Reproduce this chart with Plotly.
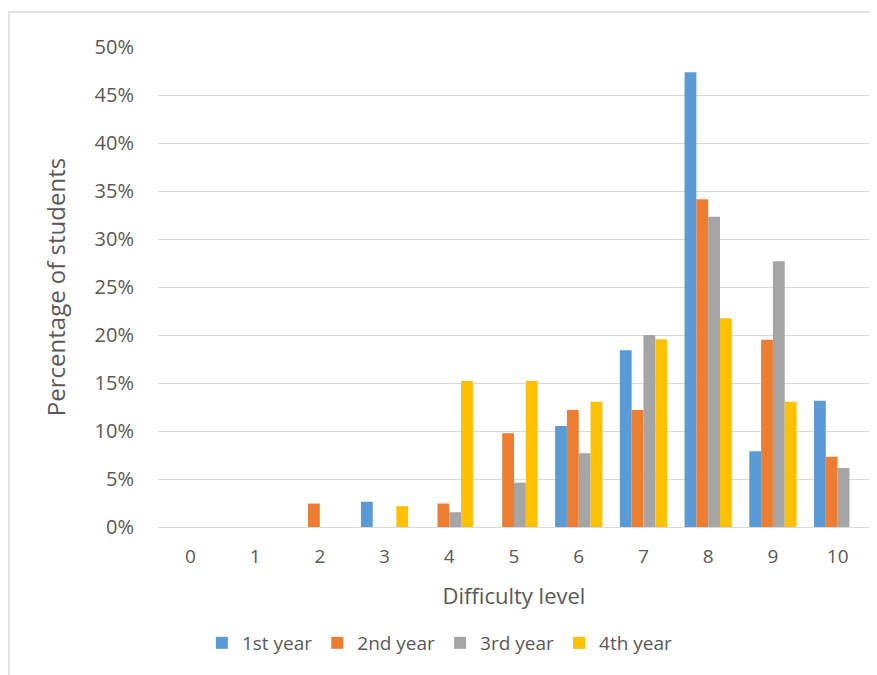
import plotly.graph_objects as go

categories = ["0", "1", "2", "3", "4", "5", "6", "7", "8", "9", "10"]
year1 = [0, 0, 0, 2.63, 0, 0, 10.53, 18.42, 47.37, 7.89, 13.16]
year2 = [0, 0, 2.44, 0, 2.44, 9.76, 12.20, 12.20, 34.15, 19.51, 7.32]
year3 = [0, 0, 0, 0, 1.54, 4.62, 7.69, 20.00, 32.31, 27.69, 6.15]
year4 = [0, 0, 0, 2.17, 15.22, 15.22, 13.04, 19.57, 21.74, 13.04, 0]
series_names = ["1st year", "2nd year", "3rd year", "4th year"]
colors = ["#5B9BD5", "#ED7D31", "#A5A5A5", "#FFC000"]
y_ticks = [0, 5, 10, 15, 20, 25, 30, 35, 40, 45, 50]
y_tick_labels = [f"{v}%" for v in y_ticks]

FONT = "Open Sans"
TXT = "#595959"

fig = go.Figure()
for name, vals, col in zip(series_names, [year1, year2, year3, year4], colors):
    fig.add_trace(go.Bar(x=categories, y=vals, name=name, marker=dict(color=col, line=dict(width=0))))

fig.update_layout(
    width=869, height=667,
    margin=dict(l=150, r=7, t=39, b=148),
    paper_bgcolor="white", plot_bgcolor="white",
    barmode="group", bargap=0.27, bargroupgap=0,
    font=dict(family=FONT, color=TXT, size=18),
    showlegend=True,
    legend=dict(orientation="h", xref="container", yref="container", x=0.497, xanchor="center",
                y=0.048, yanchor="middle", font=dict(size=19, color=TXT, family=FONT),
                itemwidth=30, traceorder="normal"),
    xaxis=dict(type="category", range=[-0.5, 10.5], showgrid=False, showline=False, zeroline=False,
               ticks="", tickfont=dict(size=19, color=TXT), ticklabelstandoff=16,
               title=dict(text="Difficulty level", font=dict(size=22, color=TXT), standoff=20)),
    yaxis=dict(range=[0, 50], tickvals=y_ticks, ticktext=y_tick_labels, showgrid=True,
               gridcolor="#D9D9D9", gridwidth=1, zeroline=True, zerolinecolor="#D9D9D9",
               zerolinewidth=1, showline=False, ticks="", tickfont=dict(size=20, color=TXT),
               ticklabelstandoff=23,
               title=dict(text="Percentage of students", font=dict(size=24, color=TXT), standoff=22)),
    shapes=[dict(type="rect", xref="paper", yref="paper", x0=-0.2093, x1=1.03, y0=-0.35, y1=1.073,
                 line=dict(color="#D9D9D9", width=1.5), fillcolor="rgba(0,0,0,0)", layer="below")],
)

fig.write_html("out.html")
